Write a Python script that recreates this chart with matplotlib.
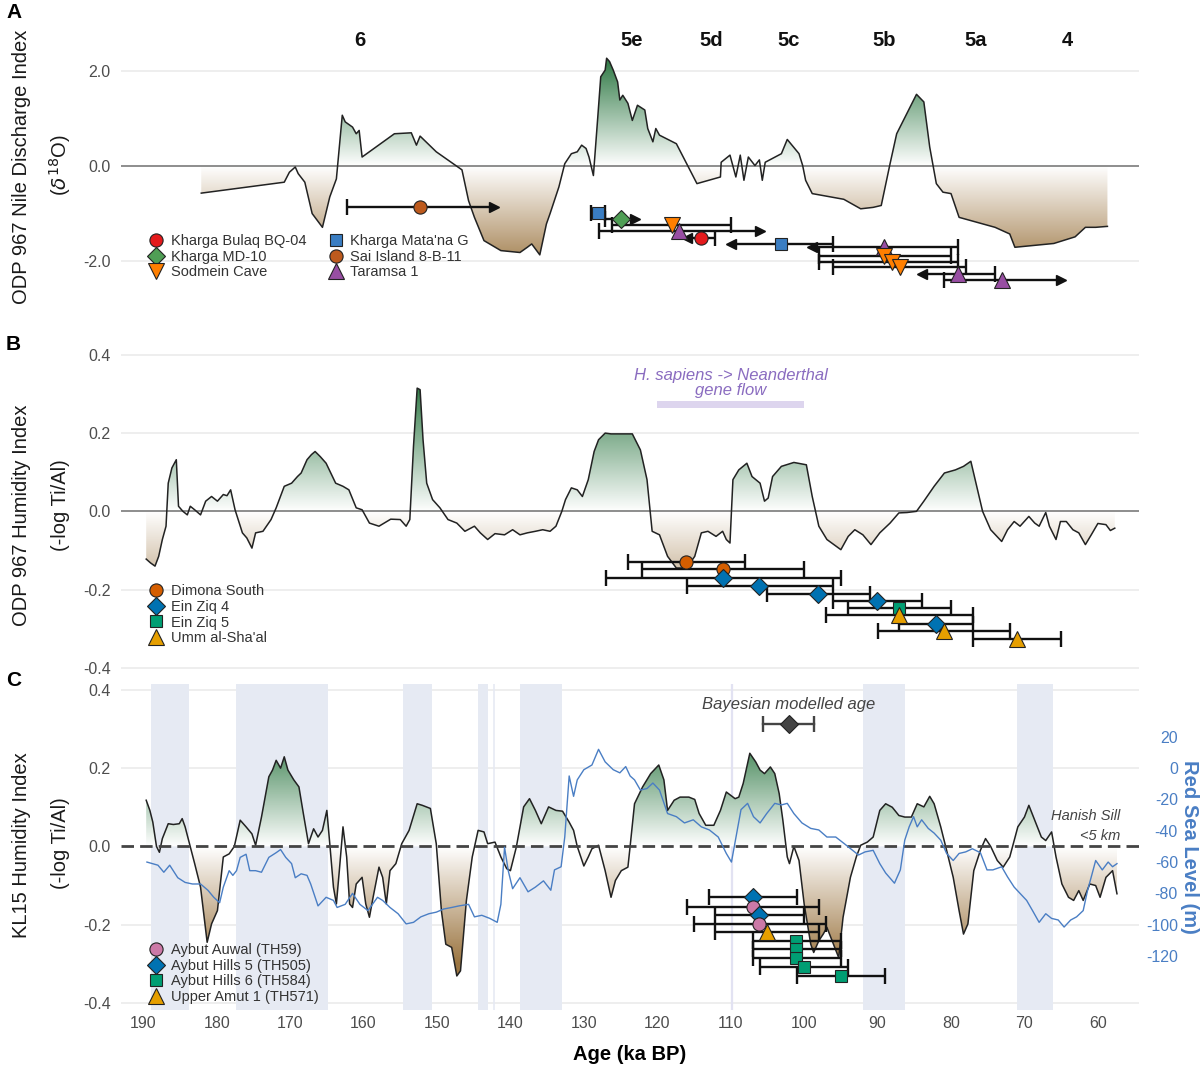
import numpy as np
import matplotlib.pyplot as plt
from matplotlib.colors import LinearSegmentedColormap
from matplotlib.lines import Line2D
from matplotlib.ticker import FormatStrFormatter

plt.rcParams['font.family'] = ['Liberation Sans', 'DejaVu Sans']
plt.rcParams['axes.unicode_minus'] = False

# ---- panel A: ODP 967 Nile discharge index ----
age_a = [182.1, 170.8, 170.1, 169.3, 168.9, 168.0, 167.0, 165.6, 164.6, 163.7, 162.9, 162.5,
         161.5, 161.0, 160.6, 160.2, 155.8, 153.5, 152.8, 152.3, 150.1, 147.8, 146.6, 145.7,
         144.9, 143.6, 141.3, 138.7, 137.7, 137.1, 136.0, 135.1, 134.6, 133.4, 132.6, 131.7,
         130.9, 130.3, 129.7, 129.3, 128.7, 128.1, 127.7, 127.1, 126.9, 126.5, 126.0, 125.4,
         125.1, 124.7, 124.0, 123.4, 122.7, 121.7, 121.3, 120.6, 120.2, 119.7, 117.4, 116.0,
         114.6, 111.4, 111.3, 110.1, 109.3, 108.7, 108.2, 107.6, 106.7, 106.1, 105.7, 105.3,
         103.1, 102.3, 100.7, 100.2, 99.8, 98.9, 94.6, 92.3, 90.6, 89.5, 88.3, 87.4, 86.0,
         84.7, 83.7, 82.9, 82.0, 81.1, 80.0, 78.9, 74.0, 72.0, 71.3, 66.0, 63.1, 61.7, 60.3, 58.7]
nile_a = [-0.57, -0.34, -0.13, -0.02, -0.16, -0.34, -1.0, -1.29, -0.65, -0.27, 1.07, 0.93,
          0.82, 0.68, 0.75, 0.19, 0.68, 0.70, 0.44, 0.63, 0.30, 0.05, -0.08, -0.73,
          -1.08, -1.57, -1.78, -1.82, -1.71, -1.64, -1.87, -1.22, -1.0, -0.44, 0.05, 0.26,
          0.30, 0.44, 0.37, 0.19, -0.20, 1.04, 1.88, 2.02, 2.27, 2.20, 2.02, 1.77,
          1.39, 1.49, 1.32, 0.96, 1.28, 1.18, 0.79, 0.51, 0.79, 0.65, 0.47, 0.05,
          -0.37, -0.23, 0.08, 0.23, -0.23, 0.23, -0.30, 0.19, 0.01, 0.13, -0.30, 0.08,
          0.26, 0.56, 0.26, 0.01, -0.30, -0.58, -0.70, -0.90, -0.87, -0.83, 0.05, 0.68, 1.11,
          1.51, 1.35, 0.40, -0.37, -0.55, -0.58, -1.08, -1.29, -1.43, -1.71, -1.63, -1.49, -1.29, -1.29, -1.27]

mis_labels = ['6', '5e', '5d', '5c', '5b', '5a', '4']
mis_ages = [160.5, 123.5, 112.6, 102.1, 89.1, 76.6, 64.1]

site_a = ['Sai Island 8-B-11', "Kharga Mata'na G", 'Kharga MD-10', 'Sodmein Cave', 'Taramsa 1',
          'Kharga Bulaq BQ-04', "Kharga Mata'na G", 'Taramsa 1', 'Sodmein Cave', 'Sodmein Cave',
          'Sodmein Cave', 'Taramsa 1', 'Taramsa 1']
pt_age_a = [152.3, 128.1, 125.0, 118.0, 117.1, 114.1, 103.1, 89.1, 89.1, 88.0, 87.0, 79.1, 73.0]
pt_y_a = [-0.87, -0.99, -1.11, -1.25, -1.36, -1.52, -1.64, -1.71, -1.89, -2.01, -2.13, -2.27, -2.40]
old_a = [162.3, 129.0, 127.1, 126.1, 128.0, 116.0, 110.0, 98.9, 98.0, 98.0, 96.1, 84.0, 81.0]
young_a = [142.3, 127.1, 123.1, 110.0, 106.0, 112.1, 96.1, 79.0, 80.0, 79.0, 78.0, 74.0, 65.0]
old_end_a = ['cap', 'cap', 'cap', 'cap', 'cap', 'arrow', 'arrow', 'arrow', 'cap', 'cap', 'cap', 'arrow', 'cap']
young_end_a = ['arrow', 'cap', 'arrow', 'cap', 'arrow', 'cap', 'cap', 'cap', 'cap', 'cap', 'cap', 'cap', 'arrow']
legend_a = ['Kharga Bulaq BQ-04', 'Kharga MD-10', 'Sodmein Cave',
            "Kharga Mata'na G", 'Sai Island 8-B-11', 'Taramsa 1']

# ---- panel B: ODP 967 humidity index ----
age_b = [189.6, 189.0, 188.4, 187.9, 187.4, 186.9, 186.6, 186.1, 185.5, 185.2, 184.6, 184.0, 183.6,
         183.0, 182.2, 181.5, 180.7, 179.9, 179.1, 178.6, 178.1, 177.5, 176.5, 175.9, 175.2, 174.7,
         173.7, 172.6, 171.9, 170.8, 169.8, 169.0, 168.5, 167.7, 167.1, 166.6, 165.9, 165.1, 163.8,
         162.8, 162.0, 161.0, 160.2, 159.2, 157.9, 156.3, 155.0, 154.2, 153.7, 153.2, 152.7, 152.3,
         151.9, 151.4, 150.6, 149.6, 148.5, 147.3, 146.2, 144.9, 144.1, 143.1, 142.1, 140.8, 139.7,
         138.7, 137.7, 136.6, 135.6, 134.6, 133.8, 133.0, 132.5, 131.7, 130.9, 130.2, 129.4, 128.6,
         128.0, 127.1, 126.3, 123.4, 122.3, 121.4, 120.7, 119.7, 118.6, 117.4, 116.0, 114.9, 114.0,
         113.1, 112.0, 111.1, 110.6, 110.1, 109.7, 108.9, 107.8, 107.1, 106.0, 105.4, 104.9, 104.3,
         103.1, 101.4, 99.7, 98.9, 98.0, 96.9, 95.0, 94.0, 93.1, 92.0, 90.9, 89.7, 88.3, 87.1, 86.0,
         84.7, 83.7, 82.3, 80.9, 79.4, 78.3, 77.3, 76.6, 75.7, 74.6, 73.1, 72.3, 71.4, 70.6, 69.4,
         68.6, 68.0, 67.1, 66.6, 65.7, 65.1, 64.3, 63.4, 62.6, 61.7, 60.9, 60.0, 58.9, 58.3, 57.7]
hum_b = [-0.122, -0.132, -0.14, -0.115, -0.072, -0.038, 0.072, 0.111, 0.132, 0.013, 0.0, -0.009, 0.013,
         0.004, -0.009, 0.026, 0.038, 0.026, 0.043, 0.040, 0.055, 0.004, -0.055, -0.068, -0.094, -0.055,
         -0.051, -0.021, 0.009, 0.064, 0.072, 0.089, 0.098, 0.132, 0.145, 0.153, 0.140, 0.123, 0.072,
         0.064, 0.055, 0.009, 0.004, -0.030, -0.038, -0.020, -0.021, -0.038, -0.021, 0.166, 0.315, 0.311,
         0.183, 0.072, 0.030, 0.009, -0.021, -0.030, -0.051, -0.038, -0.055, -0.072, -0.057, -0.060, -0.047,
         -0.060, -0.055, -0.051, -0.047, -0.051, -0.038, 0.0, 0.030, 0.060, 0.055, 0.038, 0.081, 0.153,
         0.183, 0.200, 0.198, 0.198, 0.157, 0.081, -0.051, -0.060, -0.115, -0.145, -0.145, -0.115, -0.055,
         -0.051, -0.064, -0.051, -0.072, -0.081, 0.081, 0.106, 0.123, 0.089, 0.072, 0.026, 0.034, 0.089,
         0.115, 0.125, 0.119, 0.038, -0.038, -0.072, -0.098, -0.064, -0.047, -0.060, -0.085, -0.055, -0.030,
         -0.004, -0.003, 0.0, 0.026, 0.064, 0.098, 0.106, 0.115, 0.128, 0.072, 0.0, -0.047, -0.077, -0.047,
         -0.026, -0.038, -0.013, -0.030, -0.038, -0.003, -0.038, -0.072, -0.026, -0.026, -0.047, -0.055,
         -0.085, -0.060, -0.031, -0.034, -0.049, -0.043]

site_b = ['Dimona South', 'Dimona South', 'Ein Ziq 4', 'Ein Ziq 4', 'Ein Ziq 4', 'Ein Ziq 4',
          'Ein Ziq 5', "Umm al-Sha'al", 'Ein Ziq 4', "Umm al-Sha'al", "Umm al-Sha'al"]
pt_age_b = [116.1, 111.0, 111.0, 106.1, 98.1, 90.1, 87.1, 87.1, 82.1, 81.0, 71.0]
pt_y_b = [-0.130, -0.147, -0.170, -0.191, -0.210, -0.230, -0.247, -0.266, -0.287, -0.306, -0.326]
old_b = [124.0, 122.1, 127.0, 116.0, 105.0, 96.1, 94.0, 97.0, 87.1, 90.0, 77.0]
young_b = [108.0, 100.0, 95.0, 96.1, 91.0, 84.0, 80.0, 77.0, 77.0, 72.0, 65.0]
legend_b = ['Dimona South', 'Ein Ziq 4', 'Ein Ziq 5', "Umm al-Sha'al"]
gene_flow = (120.0, 100.0)

# ---- panel C: KL15 humidity index + Red Sea level ----
age_c = [189.6, 189.1, 188.7, 188.2, 187.8, 187.4, 186.6, 185.9, 185.1, 184.7, 184.3, 183.7, 183.0,
         182.2, 181.3, 180.7, 179.9, 179.1, 178.3, 177.6, 176.8, 176.0, 175.2, 174.7, 173.9, 172.9,
         172.4, 171.9, 171.3, 170.8, 170.3, 169.5, 168.8, 168.2, 167.5, 166.8, 166.2, 165.6, 165.0,
         164.6, 164.1, 163.7, 163.3, 162.8, 162.3, 161.9, 161.5, 161.0, 160.2, 159.7, 159.2, 158.7,
         157.9, 157.4, 156.9, 156.4, 155.6, 154.8, 153.8, 152.7, 152.0, 150.9, 150.1, 149.4, 148.8,
         148.0, 147.3, 146.8, 146.0, 145.2, 144.4, 143.6, 143.1, 142.1, 141.3, 140.5, 140.0, 139.2,
         138.2, 137.4, 136.6, 135.8, 134.8, 133.8, 132.9, 132.0, 131.4, 130.9, 130.0, 129.4, 128.9,
         128.0, 127.1, 126.3, 125.7, 124.9, 124.0, 123.7, 123.1, 122.0, 120.9, 119.8, 119.1, 118.6,
         117.7, 116.9, 115.7, 114.9, 114.3, 113.4, 112.3, 111.4, 110.6, 109.4, 108.9, 108.3, 107.4,
         106.6, 106.0, 105.4, 104.6, 104.0, 103.4, 102.9, 102.3, 102.0, 101.4, 100.7, 100.0, 99.1,
         98.7, 98.0, 97.4, 96.9, 96.0, 95.3, 94.7, 93.7, 92.9, 92.3, 91.4, 90.6, 89.7, 88.9, 88.0,
         87.1, 86.3, 85.4, 84.6, 83.7, 82.9, 82.3, 81.4, 80.6, 79.7, 78.9, 78.3, 77.7, 76.9, 76.0,
         75.3, 74.6, 73.7, 72.9, 72.0, 70.9, 70.0, 69.4, 68.6, 67.7, 67.1, 66.3, 65.7, 64.9, 64.0,
         63.3, 62.6, 62.0, 61.1, 60.3, 59.7, 58.9, 58.0, 57.4]
hum_c = [0.118, 0.092, 0.062, 0.0, -0.015, 0.02, 0.058, 0.056, 0.058, 0.071, 0.05, 0.007, -0.044,
         -0.104, -0.245, -0.198, -0.164, -0.027, -0.019, 0.0, 0.067, 0.05, 0.032, 0.003, 0.075, 0.178,
         0.195, 0.22, 0.2, 0.229, 0.195, 0.17, 0.152, 0.084, 0.007, 0.045, 0.024, 0.041, 0.092,
         0.007, -0.104, -0.147, -0.062, 0.05, -0.027, -0.147, -0.156, -0.096, -0.079, -0.147, -0.181, -0.13,
         -0.053, -0.079, -0.147, -0.062, -0.044, 0.007, 0.041, 0.109, 0.105, 0.097, 0.007, -0.164, -0.25,
         -0.258, -0.331, -0.318, -0.139, -0.027, 0.041, 0.037, 0.007, 0.011, -0.027, -0.057, -0.062, -0.002,
         0.101, 0.122, 0.092, 0.058, 0.101, 0.092, 0.09, 0.062, 0.041, 0.0, -0.05, -0.027, -0.006,
         0.003, -0.062, -0.13, -0.087, -0.062, -0.053, 0.0, 0.109, 0.152, 0.186, 0.208, 0.17, 0.092,
         0.118, 0.126, 0.126, 0.12, 0.084, 0.054, 0.054, 0.092, 0.139, 0.122, 0.126, 0.161, 0.238,
         0.216, 0.195, 0.186, 0.203, 0.186, 0.135, 0.067, -0.027, -0.044, 0.0, -0.036, -0.147, -0.25,
         -0.271, -0.241, -0.224, -0.207, -0.25, -0.284, -0.181, -0.079, -0.027, 0.003, 0.011, 0.024, 0.092, 0.109, 0.1,
         0.079, 0.075, 0.075, 0.109, 0.101, 0.128, 0.109, 0.05, -0.01, -0.079, -0.164, -0.224, -0.198, -0.062, -0.01,
         0.02, 0.0, -0.036, -0.053, -0.027, 0.05, 0.075, 0.105, 0.067, 0.024, 0.015, 0.037, -0.027, -0.096, -0.13,
         -0.138, -0.113, -0.138, -0.096, -0.1, -0.13, -0.079, -0.062, -0.121]

age_sl = [189.5, 188.0, 187.2, 186.4, 185.3, 184.3, 183.3, 182.2, 181.2, 180.4, 179.6, 179.1, 178.3,
          177.8, 177.3, 176.8, 176.0, 175.5, 174.7, 173.9, 172.9, 171.9, 171.3, 170.6, 169.8, 169.3,
          168.5, 167.7, 167.2, 166.2, 165.1, 164.1, 163.6, 162.5, 161.5, 160.5, 159.4, 158.1, 157.4,
          156.4, 155.3, 154.2, 153.2, 152.2, 151.1, 150.1, 149.1, 148.0, 147.0, 145.7, 144.9, 143.9,
          142.8, 141.8, 141.3, 140.8, 140.3, 139.7, 138.7, 137.6, 136.6, 135.5, 134.5, 134.0, 133.1,
          132.6, 132.0, 131.4, 130.9, 130.0, 128.9, 128.0, 127.1, 126.0, 125.1, 124.3, 123.7, 123.1,
          122.3, 121.4, 120.6, 119.7, 118.6, 117.4, 116.3, 115.1, 114.0, 112.9, 111.7, 110.6, 109.9,
          109.1, 108.6, 107.7, 106.9, 106.0, 105.1, 104.0, 103.1, 102.3, 101.4, 100.3, 99.1, 98.0,
          96.9, 95.7, 94.6, 93.4, 92.6, 91.7, 90.6, 89.7, 88.9, 87.7, 86.9, 86.3, 85.7, 85.1, 84.6,
          84.0, 83.1, 82.3, 81.4, 80.6, 79.7, 78.9, 78.0, 77.1, 76.0, 75.1, 74.3, 73.1, 72.3, 71.4,
          70.6, 69.7, 68.9, 68.0, 67.1, 66.3, 65.4, 64.6, 63.7, 62.9, 62.0, 61.4, 60.9, 60.3, 59.4,
          58.6, 58.0, 57.4]
sea_level = [-60, -62, -66.5, -62, -70, -73, -74, -74, -78, -82.5, -86, -76, -65.5,
             -68.5, -65.5, -57, -55, -65.5, -65.5, -66.5, -57, -54, -52, -57, -61, -70,
             -67.5, -68.5, -74, -88, -82.5, -84.5, -89, -87, -80, -87, -91, -82.5, -84.5,
             -89, -93, -99.5, -98.5, -95, -93, -92, -90, -89, -88, -87, -95, -94,
             -96, -98.5, -87, -50.5, -65.5, -77, -70, -79, -76, -72, -78, -65, -63,
             -44, -5, -18, -7.5, -1, 2, 12, 4, -1, -3, 1, -5, -7.5,
             -14, -13, -9.5, -14, -29, -31, -35, -33, -37.5, -39.5, -44, -54.5, -60,
             -39.5, -26.5, -22.5, -31, -35, -29, -22.5, -23.5, -22.5, -29, -35, -38.5, -39.5,
             -44, -44, -48, -52.5, -55.5, -53.5, -52.5, -61, -67, -73.5, -65, -46, -37.5, -31, -37.5,
             -33, -38.5, -41.5, -46, -54.5, -59, -54.5, -53.5, -51.5, -54, -65, -65, -63, -69.5, -76,
             -80, -84.5, -91, -98.5, -93, -96, -97, -101.5, -97, -95, -91, -78, -69.5, -59, -65,
             -60, -63, -61]

site_c = ['Aybut Hills 5 (TH505)', 'Aybut Auwal (TH59)', 'Aybut Hills 5 (TH505)', 'Aybut Auwal (TH59)',
          'Upper Amut 1 (TH571)', 'Aybut Hills 6 (TH584)', 'Aybut Hills 6 (TH584)', 'Aybut Hills 6 (TH584)',
          'Aybut Hills 6 (TH584)', 'Aybut Hills 6 (TH584)']
pt_age_c = [107.0, 107.0, 106.1, 106.1, 105.0, 101.1, 101.1, 101.1, 100.0, 95.0]
pt_y_c = [-0.130, -0.154, -0.175, -0.198, -0.218, -0.241, -0.262, -0.284, -0.308, -0.331]
old_c = [113.0, 116.0, 112.1, 115.0, 112.1, 107.0, 107.0, 107.0, 106.0, 101.0]
young_c = [101.0, 98.0, 100.0, 97.0, 98.0, 95.0, 95.0, 95.0, 94.0, 89.0]
legend_c = ['Aybut Auwal (TH59)', 'Aybut Hills 5 (TH505)', 'Aybut Hills 6 (TH584)', 'Upper Amut 1 (TH571)']
bayes_age, bayes_y, bayes_old, bayes_young = 102.1, 0.312, 105.6, 98.7
lowstands = [(189.0, 183.8), (177.4, 164.9), (154.6, 150.7), (144.4, 143.1),
             (138.7, 133.0), (92.0, 86.2), (71.0, 66.1)]

markers = {
    'Kharga Bulaq BQ-04': ('o', '#e41a1c'), 'Kharga MD-10': ('D', '#4f9e55'),
    'Sodmein Cave': ('v', '#ff7f00'), "Kharga Mata'na G": ('s', '#3a7dc2'),
    'Sai Island 8-B-11': ('o', '#bd5a1d'), 'Taramsa 1': ('^', '#984ea3'),
    'Dimona South': ('o', '#d55e00'), 'Ein Ziq 4': ('D', '#0072b2'),
    'Ein Ziq 5': ('s', '#009e73'), "Umm al-Sha'al": ('^', '#e69f00'),
    'Aybut Auwal (TH59)': ('o', '#cc79a7'), 'Aybut Hills 5 (TH505)': ('D', '#0072b2'),
    'Aybut Hills 6 (TH584)': ('s', '#009e73'), 'Upper Amut 1 (TH571)': ('^', '#e69f00'),
}
msize = {'o': 9.5, 'D': 8.8, 's': 8.5, '^': 11, 'v': 11}

W, H = 1200, 1067
XL = (193.1, 54.4)
cmap = LinearSegmentedColormap.from_list('hb', ['#9c7642', '#ffffff', '#2c7742'])
blue = '#4a7ec4'

fig = plt.figure(figsize=(W / 100, H / 100), dpi=100)


def make_axes(top, bottom):
    return fig.add_axes([120.5 / W, 1 - bottom / H, (1139 - 120.5) / W, (bottom - top) / H])


def style(ax, ylim, yticks, grid):
    ax.set_xlim(*XL)
    ax.set_ylim(*ylim)
    for s in ax.spines.values():
        s.set_visible(False)
    ax.set_yticks(yticks)
    ax.yaxis.set_major_formatter(FormatStrFormatter('%.1f'))
    ax.tick_params(length=0, labelsize=11.5, labelcolor='#4d4d4d', pad=7)
    for g in grid:
        ax.axhline(g, color='#ebebeb', lw=1.2, zorder=0)


def grad_fill(ax, x, y, vmax, ylim):
    x = np.asarray(x)
    y = np.asarray(y)
    poly = ax.fill_between(x, y, 0, facecolor='none', edgecolor='none')
    grad = np.linspace(ylim[0], ylim[1], 500).reshape(-1, 1)
    im = ax.imshow(grad, cmap=cmap, vmin=-vmax, vmax=vmax, origin='lower', aspect='auto',
                   extent=[x.min(), x.max(), ylim[0], ylim[1]], zorder=1, interpolation='bilinear')
    im.set_clip_path(poly.get_paths()[0], transform=ax.transData)
    ax.plot(x, y, color='#222222', lw=1.1, zorder=3)


def error_rows(ax, ys, olds, youngs, old_ends=None, young_ends=None):
    n = len(ys)
    old_ends = old_ends or ['cap'] * n
    young_ends = young_ends or ['cap'] * n
    for y, o, yg, oe, ye in zip(ys, olds, youngs, old_ends, young_ends):
        ax.plot([o, yg], [y, y], color='#111111', lw=1.7, zorder=4, solid_capstyle='butt')
        if oe == 'cap':
            ax.plot(o, y, marker='|', ms=11, mew=1.7, color='#111111', zorder=4)
        else:
            ax.plot(o, y, marker='<', ms=7, color='#111111', zorder=4)
        if ye == 'cap':
            ax.plot(yg, y, marker='|', ms=11, mew=1.7, color='#111111', zorder=4)
        else:
            ax.plot(yg, y, marker='>', ms=7, color='#111111', zorder=4)


def points(ax, sites, ages, ys):
    for s, a, y in zip(sites, ages, ys):
        m, c = markers[s]
        ax.plot(a, y, marker=m, color=c, mec='#222222', mew=0.8, ms=msize[m], ls='none', zorder=5)


def legend(ax, names, ncol, left, top, colsp=1.5):
    handles = [Line2D([], [], marker=markers[n][0], color=markers[n][1], mec='#222222', mew=0.8,
                      ms=msize[markers[n][0]], ls='none', label=n) for n in names]
    leg = ax.legend(handles=handles, ncol=ncol, loc='upper left', bbox_to_anchor=(left / W, 1 - top / H),
                    bbox_transform=fig.transFigure, frameon=False, fontsize=10.5, labelspacing=0.12,
                    handlelength=1.0, handletextpad=0.5, columnspacing=colsp, borderpad=0, borderaxespad=0)
    for t in leg.get_texts():
        t.set_color('#333333')
    leg.set_zorder(6)


# ---------- A ----------
ylim_a = (-2.82, 3.18)
axA = make_axes(15, 300)
style(axA, ylim_a, [-2.0, 0.0, 2.0], [-2.0, 2.0])
axA.axhline(0, color='#7a7a7a', lw=1.2, zorder=2)
grad_fill(axA, age_a, nile_a, 2.3, ylim_a)
for lab, a in zip(mis_labels, mis_ages):
    axA.text(a, 2.65, lab, ha='center', va='center', fontsize=14.5, fontweight='bold', color='#111111')
error_rows(axA, pt_y_a, old_a, young_a, old_end_a, young_end_a)
points(axA, site_a, pt_age_a, pt_y_a)
legend(axA, legend_a, 2, 149, 234, colsp=1.5)
axA.tick_params(labelbottom=False)

# ---------- B ----------
ylim_b = (-0.426, 0.438)
axB = make_axes(340, 678)
style(axB, ylim_b, [-0.4, -0.2, 0.0, 0.2, 0.4], [-0.4, -0.2, 0.2, 0.4])
axB.axhline(0, color='#7a7a7a', lw=1.2, zorder=2)
grad_fill(axB, age_b, hum_b, 0.33, ylim_b)
axB.fill_between(gene_flow, 0.264, 0.283, color='#ddd5ee', lw=0, zorder=2)
axB.text(np.mean(gene_flow), 0.346, 'H. sapiens -> Neanderthal', ha='center', va='center',
         fontsize=12, style='italic', color='#8a6cc0')
axB.text(np.mean(gene_flow), 0.308, 'gene flow', ha='center', va='center',
         fontsize=12, style='italic', color='#8a6cc0')
error_rows(axB, pt_y_b, old_b, young_b)
points(axB, site_b, pt_age_b, pt_y_b)
legend(axB, legend_b, 1, 149, 584)
axB.tick_params(labelbottom=False)

# ---------- C ----------
ylim_c = (-0.418, 0.415)
axC = make_axes(684, 1010)
style(axC, ylim_c, [-0.4, -0.2, 0.0, 0.2, 0.4], [-0.4, -0.2, 0.2, 0.4])
for a0, a1 in lowstands:
    axC.axvspan(a0, a1, color='#e6eaf3', lw=0, zorder=0)
axC.axvline(142.2, color='#e6eaf3', lw=1.2, zorder=0)
axC.axvline(109.8, color='#e2e2f2', lw=1.6, zorder=0)
grad_fill(axC, age_c, hum_c, 0.3, ylim_c)
axC.axhline(0, color='#444444', lw=2, ls=(0, (4.5, 2.2)), zorder=3)
axC.text(57.0, 0.078, 'Hanish Sill', ha='right', va='center', fontsize=10.5, style='italic', color='#444444')
axC.text(57.0, 0.026, '<5 km', ha='right', va='center', fontsize=10.5, style='italic', color='#444444')
axC.text(bayes_age, 0.362, 'Bayesian modelled age', ha='center', va='center', fontsize=12,
         style='italic', color='#444444')
axC.plot([bayes_old, bayes_young], [bayes_y, bayes_y], color='#444444', lw=1.7, zorder=4)
axC.plot([bayes_old, bayes_young], [bayes_y, bayes_y], ls='none', marker='|', ms=11, mew=1.7, color='#444444', zorder=4)
axC.plot(bayes_age, bayes_y, marker='D', ms=9, color='#444444', mec='#222222', mew=0.8, zorder=5)
error_rows(axC, pt_y_c, old_c, young_c)
points(axC, site_c, pt_age_c, pt_y_c)
legend(axC, legend_c, 1, 149, 943)
axC.set_xticks(np.arange(190, 59, -10))
axC.tick_params(axis='x', labelsize=11.5, labelcolor='#4d4d4d', pad=4)

ax2 = axC.twinx()
ax2.set_xlim(*XL)
ax2.set_ylim((ylim_c[0] - 0.2) / 0.004, (ylim_c[1] - 0.2) / 0.004)
ax2.plot(age_sl, sea_level, color=blue, lw=1.0, zorder=3)
for s in ax2.spines.values():
    s.set_visible(False)
ax2.set_yticks(np.arange(-120, 21, 20))
ax2.tick_params(length=0, labelsize=11.5, labelcolor=blue, pad=28)
for t in ax2.get_yticklabels():
    t.set_ha('right')

# ---------- labels ----------
fig.text(6 / W, 1 - 12 / H, 'A', fontsize=15, fontweight='bold', va='center')
fig.text(6 / W, 1 - 345 / H, 'B', fontsize=15, fontweight='bold', va='center')
fig.text(6 / W, 1 - 680 / H, 'C', fontsize=15, fontweight='bold', va='center')

ylab = dict(rotation=90, ha='center', va='center', fontsize=14.5, color='#1a1a1a')
fig.text(22 / W, 1 - 167 / H, 'ODP 967 Nile Discharge Index', **ylab)
fig.text(60 / W, 1 - 165 / H, r'($\delta^{18}$O)', **ylab)
fig.text(22 / W, 1 - 515 / H, 'ODP 967 Humidity Index', **ylab)
fig.text(60 / W, 1 - 505 / H, '(-log Ti/Al)', **ylab)
fig.text(22 / W, 1 - 845 / H, 'KL15 Humidity Index', **ylab)
fig.text(60 / W, 1 - 843 / H, '(-log Ti/Al)', **ylab)
fig.text(1190 / W, 1 - 847 / H, 'Red Sea Level (m)', rotation=270, ha='center', va='center',
         fontsize=14.5, fontweight='bold', color=blue)
fig.text(630 / W, 1 - 1055 / H, 'Age (ka BP)', ha='center', va='center', fontsize=14.5, fontweight='bold')

fig.savefig('out.png', dpi=100)
